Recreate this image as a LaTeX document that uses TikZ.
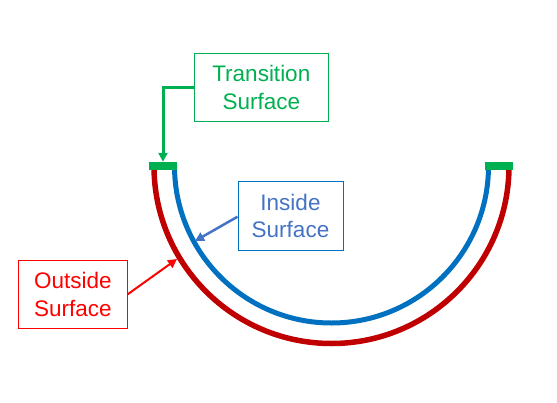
\documentclass[tikz,border=0pt]{standalone}
\usepackage{fontspec}
\setmainfont{Liberation Sans}
\usetikzlibrary{arrows.meta}
\definecolor{outred}{HTML}{C00000}
\definecolor{inblue}{HTML}{0070C0}
\definecolor{trgreen}{HTML}{00B050}
\definecolor{lblred}{HTML}{FF0000}
\definecolor{lblblue}{HTML}{4472C4}
\tikzset{
  lbl/.style={draw, line width=1pt, align=center, inner sep=0pt,
    font=\fontsize{22.5}{27.6}\selectfont},
  bar/.style={fill=trgreen, inner sep=0pt, minimum width=28pt, minimum height=8pt},
  tip/.style={-{Triangle[length=9pt,width=9pt]}}
}

\begin{document}
\begin{tikzpicture}[x=1pt,y=-1pt]
\useasboundingbox (0,0) rectangle (557,402);
\coordinate (c) at (331.5,166);
\draw[outred, line width=5.5pt] (c) ++(-177.5,0) arc[start angle=180, end angle=0, radius=177.5];
\draw[inblue, line width=5pt] (c) ++(-157,0) arc[start angle=180, end angle=0, radius=157];
\node[bar] (barL) at (163,166) {};
\node[bar] (barR) at (499,166) {};
\node[lbl, trgreen, minimum width=134pt, minimum height=68pt] (trans) at (261.3,87.5) {Transition\\Surface};
\node[lbl, inblue, text=lblblue, minimum width=105pt, minimum height=69pt] (inside) at (290.5,215.8) {Inside\\Surface};
\node[lbl, lblred, minimum width=109pt, minimum height=68pt] (outside) at (72.8,294.2) {Outside\\Surface};
\coordinate (intip) at (195,241);
\coordinate (outtip) at (177,259);
\draw[tip, trgreen, line width=3pt] (trans.west) -| (barL.north);
\draw[tip, lblblue, line width=2.5pt] (inside.west |- 0,216.7) -- (intip);
\draw[tip, lblred, line width=2pt] (outside.east) -- (outtip);
\end{tikzpicture}
\end{document}
